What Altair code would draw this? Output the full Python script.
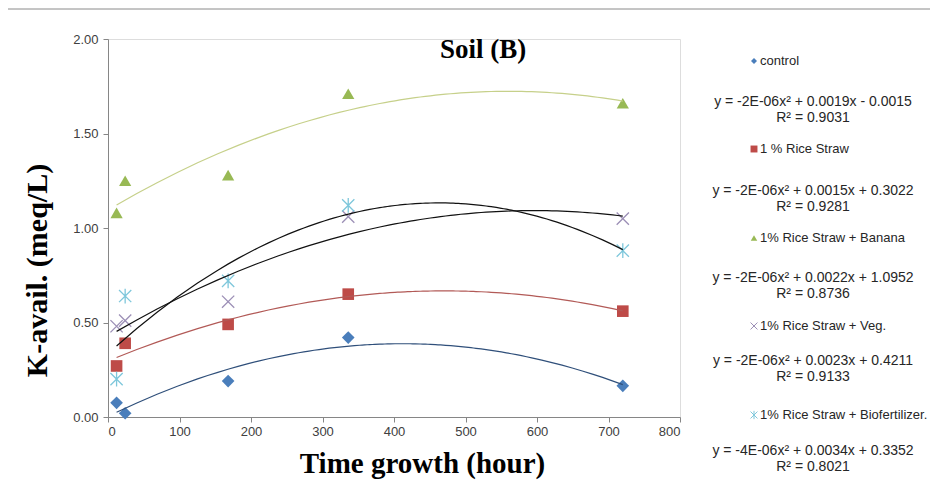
import altair as alt
import pandas as pd

# ---------------- data ----------------
times = [12, 24, 168, 336, 720]
control = [0.075, 0.02, 0.19, 0.42, 0.165]
rice_straw = [0.27, 0.39, 0.49, 0.65, 0.56]
banana = [1.08, 1.25, 1.28, 1.71, 1.66]
veg = [0.48, 0.51, 0.61, 1.06, 1.05]
biofert = [0.20, 0.64, 0.72, 1.12, 0.88]

series_names = ["control", "1 % Rice Straw", "1% Rice Straw + Banana",
                "1% Rice Straw + Veg.", "1% Rice Straw + Biofertilizer."]
series_values = [control, rice_straw, banana, veg, biofert]
equations = ["y = -2E-06x² + 0.0019x - 0.0015",
             "y = -2E-06x² + 0.0015x + 0.3022",
             "y = -2E-06x² + 0.0022x + 1.0952",
             "y = -2E-06x² + 0.0023x + 0.4211",
             "y = -4E-06x² + 0.0034x + 0.3352"]
r_squared = ["R² = 0.9031", "R² = 0.9281", "R² = 0.8736", "R² = 0.9133", "R² = 0.8021"]
x_ticks = [0, 100, 200, 300, 400, 500, 600, 700, 800]
y_ticks = [0.0, 0.5, 1.0, 1.5, 2.0]

# ---------------- styles ----------------
marker_colors = ["#4A7EBB", "#BE4B48", "#98B954", "#9C8FB6", "#7EC7DB"]
line_colors = ["#2F4F7A", "#B25A57", "#C6D08A", "#111111", "#111111"]
X_PATH = "M-1,-1L1,1M-1,1L1,-1"
AST_PATH = "M-1,-1L1,1M-1,1L1,-1M0,-1.2L0,1.2"
shapes = ["diamond", "square", "triangle-up", X_PATH, AST_PATH]
filled = [True, True, True, False, False]
sizes = [160, 135, 150, 50, 50]
legend_sizes = [36, 48, 42, 16, 16]

rows = []
for name, vals in zip(series_names, series_values):
    for t, v in zip(times, vals):
        rows.append({"series": name, "time": t, "k": v})
df = pd.DataFrame(rows)

W, H = 572, 378
SANS = "Liberation Sans"
SERIF = "Liberation Serif"

x_enc = alt.X("time:Q", scale=alt.Scale(domain=[0, 800], nice=False),
              axis=alt.Axis(values=x_ticks, format="d", grid=False,
                            title="Time growth (hour)", titleFont=SERIF,
                            titleFontSize=29, titleFontWeight="bold", titleColor="black",
                            titleX=314, titleY=32, titleAnchor="middle",
                            labelFont=SANS, labelFontSize=13, labelColor="#404040",
                            domainColor="#868686", tickColor="#868686",
                            tickSize=5, labelPadding=3))
y_enc = alt.Y("k:Q", scale=alt.Scale(domain=[0, 2], nice=False),
              axis=alt.Axis(values=y_ticks, format=".2f", grid=False,
                            title="K-avail. (meq/L)", titleFont=SERIF,
                            titleFontSize=30, titleFontWeight="bold", titleColor="black",
                            titleX=-71, titleY=231, titleAnchor="middle",
                            titleBaseline="middle",
                            labelFont=SANS, labelFontSize=13, labelColor="#404040",
                            domainColor="#868686", tickColor="#868686",
                            tickSize=5, labelPadding=5))

layers = []
for i, name in enumerate(series_names):
    sub = alt.Chart(df).transform_filter(alt.datum.series == name)
    if filled[i]:
        pts = sub.mark_point(shape=shapes[i], filled=True, color=marker_colors[i],
                             opacity=1, size=sizes[i])
    else:
        pts = sub.mark_point(shape=shapes[i], filled=False, stroke=marker_colors[i],
                             strokeWidth=1.3, opacity=1, size=sizes[i] * 3)
    layers.append(pts.encode(x=x_enc, y=y_enc))
for i, name in enumerate(series_names):
    sub = alt.Chart(df).transform_filter(alt.datum.series == name)
    line = sub.transform_regression("time", "k", method="poly", order=2).mark_line(
        color=line_colors[i], strokeWidth=1.2, clip=True)
    layers.append(line.encode(x=x_enc, y=y_enc))

# ---------------- title ----------------
layers.append(alt.Chart(pd.DataFrame({"t": ["Soil (B)"]})).mark_text(
    font=SERIF, fontSize=27, fontWeight="bold", color="black",
    align="center", baseline="middle").encode(
    text="t:N", x=alt.value(375), y=alt.value(11)))

# ---------------- custom legend ----------------
entry_y = [22, 110, 199, 287, 376]
eq_y = [63, 152, 239, 322, 412]
for i, name in enumerate(series_names):
    d = pd.DataFrame({"name": [name], "eq": [equations[i]], "r2": [r_squared[i]]})
    base = alt.Chart(d)
    if filled[i]:
        sym = base.mark_point(shape=shapes[i], filled=True, color=marker_colors[i],
                              opacity=1, size=legend_sizes[i])
    else:
        sym = base.mark_point(shape=shapes[i], filled=False, stroke=marker_colors[i],
                              strokeWidth=1, opacity=1, size=legend_sizes[i] * 3)
    layers.append(sym.encode(x=alt.value(646), y=alt.value(entry_y[i])))
    layers.append(base.mark_text(font=SANS, fontSize=13, color="#262626", align="left",
                                 baseline="middle").encode(
        text="name:N", x=alt.value(652), y=alt.value(entry_y[i])))
    layers.append(base.mark_text(font=SANS, fontSize=14, color="#262626", align="center",
                                 baseline="middle").encode(
        text="eq:N", x=alt.value(705), y=alt.value(eq_y[i])))
    layers.append(base.mark_text(font=SANS, fontSize=14, color="#262626", align="center",
                                 baseline="middle").encode(
        text="r2:N", x=alt.value(705), y=alt.value(eq_y[i] + 16)))

# ---------------- outer border ----------------
border = pd.DataFrame({"b": [0]})
layers.append(alt.Chart(border).mark_rule(color="#8a8a8a", strokeWidth=1).encode(
    x=alt.value(-104), x2=alt.value(830), y=alt.value(-30)))
layers.append(alt.Chart(border).mark_rule(color="#8a8a8a", strokeWidth=1).encode(
    x=alt.value(-104), y=alt.value(-30), y2=alt.value(450)))

chart = alt.layer(*layers).properties(
    width=W, height=H,
    autosize=alt.AutoSizeParams(type="none"),
    padding={"left": 100, "top": 31, "right": 250, "bottom": 64},
).configure_view(stroke=None).configure(background="white")

chart.save("out.html", embed_options={"renderer": "svg", "actions": False})
